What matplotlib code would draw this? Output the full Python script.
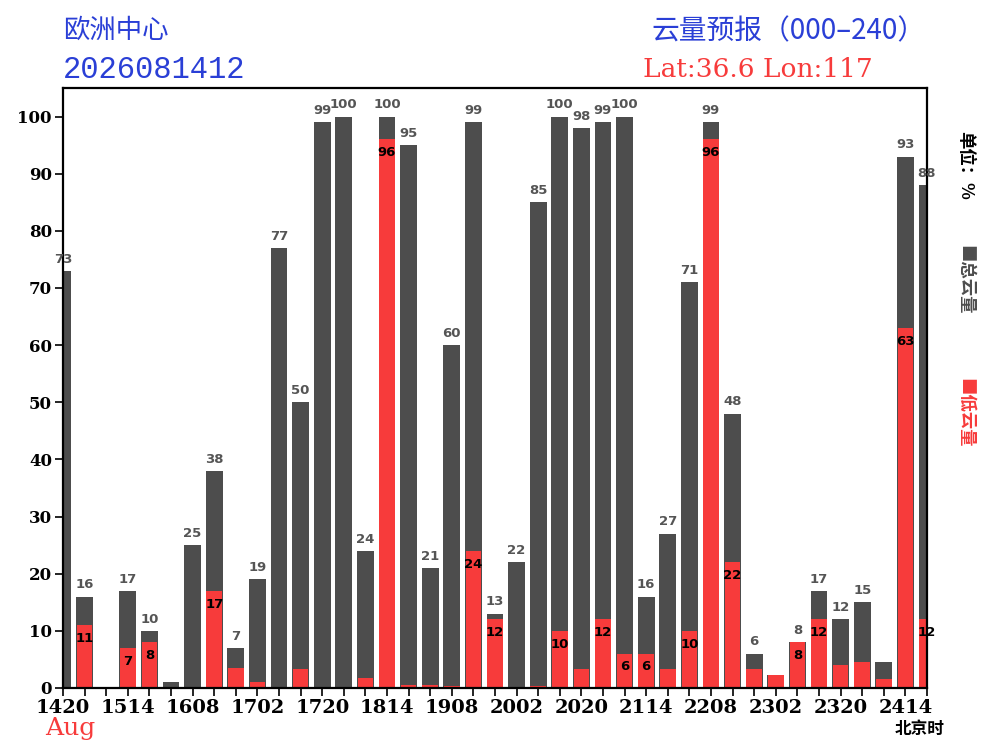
import numpy as np
import matplotlib
matplotlib.use('Agg')
import matplotlib.pyplot as plt

plt.rcParams['font.family'] = ['Noto Sans CJK SC', 'DejaVu Sans']

# 总云量 / 低云量 (%), 每6小时, 000-240 h
total = [73, 16, 0, 17, 10, 1, 25, 38, 7, 19,
         77, 50, 99, 100, 24, 100, 95, 21, 60, 99,
         13, 22, 85, 100, 98, 99, 100, 16, 27, 71,
         99, 48, 6, 2.3, 8, 17, 12, 15, 4.5, 93, 88]
low = [0, 11, 0, 7, 8, 0, 0, 17, 3.5, 1,
       0, 3.3, 0, 0, 1.8, 96, 0.5, 0.6, 0.4, 24,
       12, 0, 0.4, 10, 3.3, 12, 6, 6, 3.3, 10,
       96, 22, 3.3, 2.3, 8, 12, 4, 4.5, 1.5, 63, 12]
tick_labels = ['1420', '1514', '1608', '1702', '1720', '1814', '1908',
               '2002', '2020', '2114', '2208', '2302', '2320', '2414']

gray = '#4d4d4d'
red = '#f73b3b'
blue = '#2a3fd6'

x = np.arange(len(total))

fig = plt.figure(figsize=(10, 7.5), dpi=100)
ax = fig.add_axes([0.063, 0.0827, 0.864, 0.8])

ax.bar(x, total, width=0.78, color=gray)
ax.bar(x, low, width=0.72, color=red)

for i in range(len(x)):
    if total[i] >= 5:
        ax.annotate('%d' % round(total[i]), (x[i], total[i]), xytext=(0, 8.5),
                    textcoords='offset points', ha='center', va='center',
                    color='#555555', fontsize=9.5, fontweight='bold',
                    family='DejaVu Sans', annotation_clip=False)
    if low[i] >= 5:
        ax.annotate('%d' % round(low[i]), (x[i], low[i]), xytext=(0, -9.5),
                    textcoords='offset points', ha='center', va='center',
                    color='black', fontsize=9.5, fontweight='bold',
                    family='DejaVu Sans', annotation_clip=False)

ax.set_xlim(0, 40)
ax.set_ylim(0, 105)
ax.set_xticks(x, minor=True)
ax.set_xticks(x[::3])
ax.set_xticklabels(tick_labels, family='DejaVu Serif', fontweight='bold', fontsize=14)
ax.set_yticks(np.arange(0, 101, 10))
ax.set_yticklabels([str(v) for v in range(0, 101, 10)], family='DejaVu Serif',
                   fontweight='bold', fontsize=12)
ax.tick_params(axis='x', which='both', length=6, width=1.2, pad=2)
ax.tick_params(axis='y', length=6, width=1.2, pad=2)
for s in ax.spines.values():
    s.set_linewidth(1.6)

fig.text(0.063, 0.959, '欧洲中心', color=blue, fontsize=19, va='center')
fig.text(0.063, 0.907, '2026081412', color=blue, fontsize=22, va='center',
         family='Liberation Mono')
fig.text(0.926, 0.958, '云量预报（000–240）', color=blue, fontsize=20, va='center',
         ha='right', family=['Noto Sans CJK SC', 'DejaVu Sans'])
fig.text(0.873, 0.907, 'Lat:36.6 Lon:117', color=red, fontsize=19, va='center',
         ha='right', family='DejaVu Serif')
fig.text(0.045, 0.029, 'Aug', color=red, fontsize=18, va='center',
         family='DejaVu Serif')
fig.text(0.945, 0.028, '北京时', color='black', fontsize=12, va='center',
         ha='right', fontweight='bold')

fig.text(0.965, 0.78, '单位：%', rotation=-90, fontsize=12.5, fontweight='bold',
         ha='center', va='center', color='black')
fig.text(0.965, 0.627, '■总云量', rotation=-90, fontsize=12.5, fontweight='bold',
         ha='center', va='center', color=gray)
fig.text(0.965, 0.45, '■低云量', rotation=-90, fontsize=12.5, fontweight='bold',
         ha='center', va='center', color=red)

fig.savefig('out.png', dpi=100)
